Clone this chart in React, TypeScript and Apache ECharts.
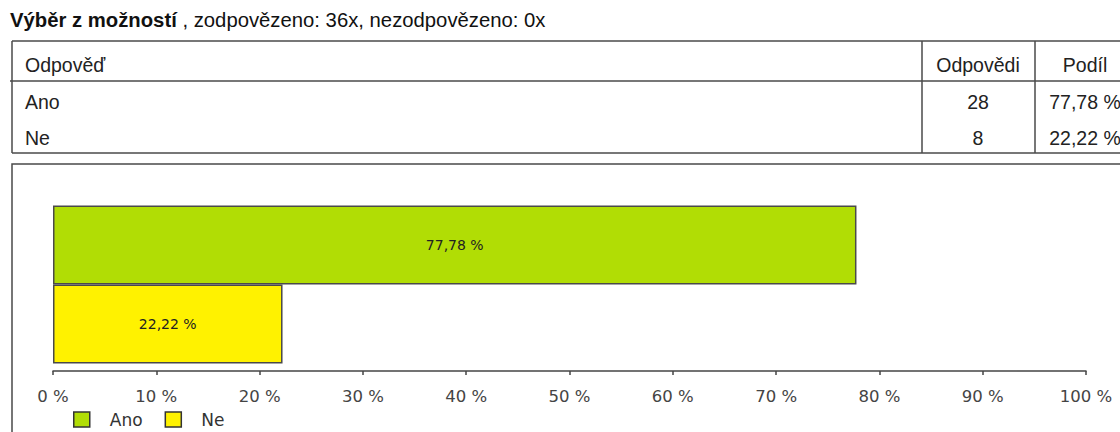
import React, { useEffect, useRef } from "react";
import * as echarts from "echarts";

const categories = ["Ano", "Ne"];
const counts = [28, 8];
const shares = [77.78, 22.22];
const unanswered = 0;
const colors = ["#b1dd05", "#fff200"];
const headers = ["Odpověď", "Odpovědi", "Podíl"];
const questionType = "Výběr z možností";

const fmtPct = (v: number) => v.toFixed(2).replace(".", ",") + " %";

export default function App() {
  const ref = useRef<HTMLDivElement>(null);
  useEffect(() => {
    if (!ref.current) return;
    const chart = echarts.init(ref.current, undefined, { renderer: "svg" });
    const answered = counts.reduce((a, b) => a + b, 0);
    const tFont = "Liberation Sans";
    const lineStyle = { stroke: "#4a4a4a", lineWidth: 1.5 };
    const hLine = (y: number, x1: number) => ({
      type: "line",
      shape: { x1, y1: y, x2: 1140, y2: y },
      style: lineStyle,
      silent: true,
    });
    const vLine = (x: number) => ({
      type: "line",
      shape: { x1: x, y1: 41, x2: x, y2: 153 },
      style: lineStyle,
      silent: true,
    });
    const txt = (text: string, x: number, y: number, align: string) => ({
      type: "text",
      x,
      y,
      style: {
        text,
        fontSize: 19.5,
        fontFamily: tFont,
        fill: "#222",
        align,
        verticalAlign: "middle",
        textAlign: align,
        textVerticalAlign: "middle",
      },
      silent: true,
    });
    const rowY = [102, 138];
    const graphic: any[] = [
      {
        type: "text",
        x: 10,
        y: 20,
        style: {
          text: `{b|${questionType}} , zodpovězeno: ${answered}x, nezodpovězeno: ${unanswered}x`,
          fontSize: 20.3,
          fontFamily: tFont,
          fill: "#111",
          verticalAlign: "middle",
          textVerticalAlign: "middle",
          rich: {
            b: { fontWeight: "bold", fontSize: 20.3, fontFamily: tFont, fill: "#111" },
          },
        },
        silent: true,
      },
      hLine(41, 12),
      hLine(81, 10),
      hLine(153, 12),
      vLine(12),
      vLine(922),
      vLine(1035),
      txt(headers[0], 25, 65, "left"),
      txt(headers[1], 978, 65, "center"),
      txt(headers[2], 1085, 65, "center"),
      ...categories.flatMap((c, i) => [
        txt(c, 25, rowY[i], "left"),
        txt(String(counts[i]), 978, rowY[i], "center"),
        txt(fmtPct(shares[i]), 1085, rowY[i], "center"),
      ]),
      {
        type: "rect",
        shape: { x: 12, y: 164, width: 1130, height: 300 },
        style: { fill: "none", stroke: "#4a4a4a", lineWidth: 1.5 },
        silent: true,
      },
    ];

    chart.setOption({
      animation: false,
      graphic,
      grid: { left: 53, right: 34, top: 198, bottom: 61, containLabel: false },
      legend: {
        left: 73,
        top: 411,
        padding: 0,
        itemWidth: 16,
        itemHeight: 15,
        itemGap: 22,
        icon: "rect",
        data: categories,
        textStyle: {
          fontSize: 17,
          fontFamily: "DejaVu Sans",
          color: "#333",
          padding: [0, 0, 0, 15],
        },
        itemStyle: { borderColor: "#333", borderWidth: 1.5 },
      },
      xAxis: {
        type: "value",
        min: 0,
        max: 100,
        interval: 10,
        splitLine: { show: false },
        axisLine: { show: true, lineStyle: { color: "#444", width: 1.5 } },
        axisTick: { show: true, length: 4, lineStyle: { color: "#444", width: 1.5 } },
        axisLabel: {
          formatter: "{value} %",
          fontSize: 16.5,
          fontFamily: "DejaVu Sans",
          color: "#444",
          margin: 17,
        },
      },
      yAxis: {
        type: "category",
        data: [questionType],
        inverse: true,
        show: false,
      },
      series: categories.map((c, i) => ({
        name: c,
        type: "bar",
        data: [shares[i]],
        barWidth: 79,
        barGap: "0%",
        itemStyle: { color: colors[i], borderColor: "#4a4a4a", borderWidth: 1.5 },
        label: {
          show: true,
          position: "inside",
          formatter: (p: any) => fmtPct(p.value),
          fontSize: 14,
          fontFamily: "DejaVu Sans",
          color: "#222",
        },
      })),
    });
    return () => chart.dispose();
  }, []);
  return (
    <div
      ref={ref}
      style={{ position: "fixed", left: 0, top: 0, width: 1120, height: 432, background: "#fff" }}
    />
  );
}
